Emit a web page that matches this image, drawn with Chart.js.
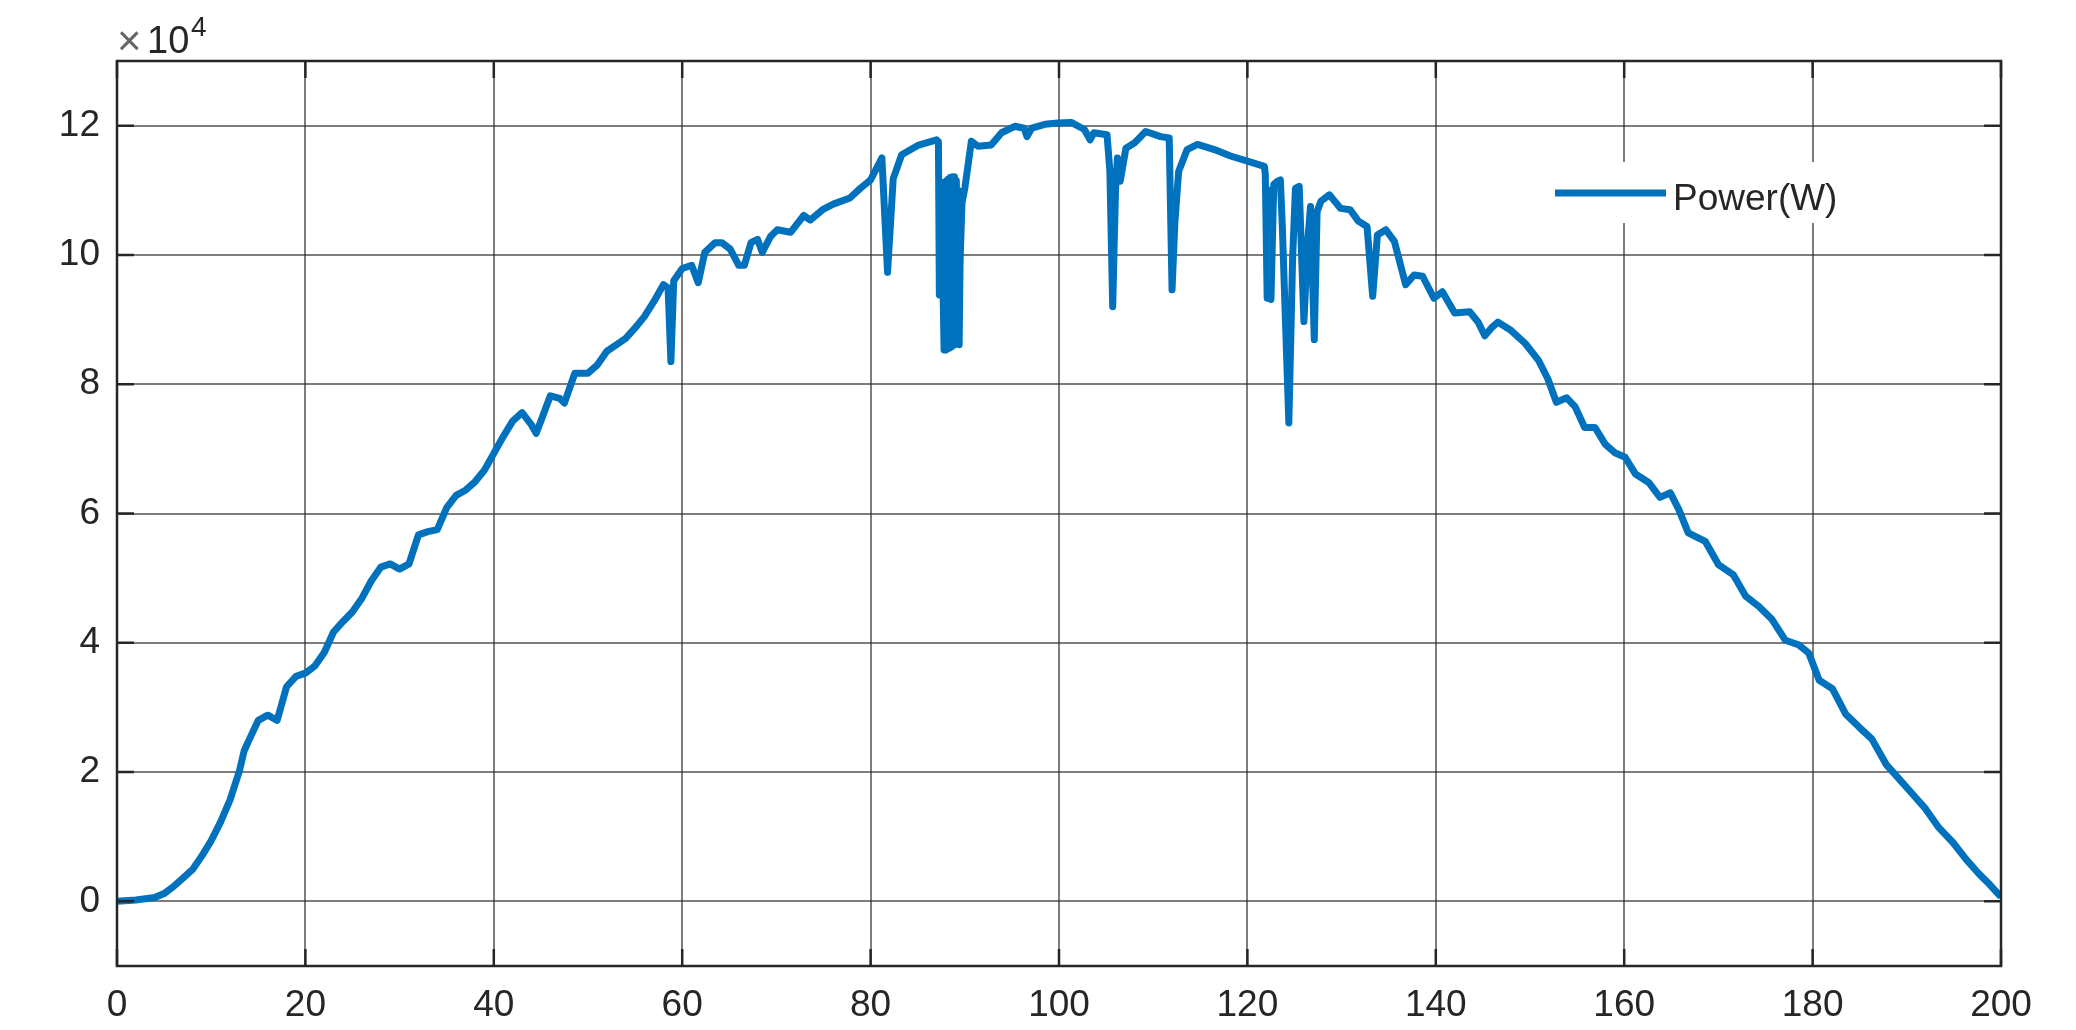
<!DOCTYPE html>
<html>
<head>
<meta charset="utf-8">
<title>Power(W)</title>
<script src="https://cdn.jsdelivr.net/npm/chart.js@4/dist/chart.umd.min.js"></script>
<style>
  html, body { margin: 0; padding: 0; background: #fff; }
  #powerChart { display: block; }
</style>
</head>
<body>
<canvas id="powerChart" width="2076" height="1030"></canvas>
<script>
// values (10 per line in both arrays)
const timeValues = [
  0, 2, 4, 5, 6, 7, 8, 9, 10, 11,
  12, 13, 13.5, 14, 15, 16, 17, 18, 19, 20,
  21, 22, 23, 24, 25, 26, 27, 28, 29, 30,
  31, 32, 33, 34, 35, 36, 37, 38, 39, 40,
  41, 42, 43, 44, 44.5, 45, 46, 47, 47.5, 48.6,
  50, 51, 52, 53, 54, 55, 56, 57, 58, 58.5,
  58.8, 59.1, 60, 61, 61.7, 62.4, 63.5, 64.2, 65.1, 66,
  66.6, 67.3, 68, 68.5, 69.4, 70.1, 71.5, 72.9, 73.6, 75,
  76.1, 77.8, 78.9, 80, 81.2, 81.8, 82.4, 83.3, 85.1, 87,
  87.2, 87.3, 87.4, 87.5, 87.6, 87.7, 87.8, 87.9, 88.0, 88.1,
  88.2, 88.3, 88.4, 88.5, 88.6, 88.7, 88.8, 88.9, 89.0, 89.1,
  89.2, 89.3, 89.4, 89.5, 89.7, 90, 90.7, 91.4, 92.8, 93.9,
  95.3, 96.3, 96.6, 97.1, 98.5, 99.9, 101.3, 102.7, 103.3, 103.7,
  105.1, 105.4, 105.7, 106, 106.2, 106.5, 107.1, 108, 109.2, 110.8,
  111.7, 112, 112.3, 112.7, 113.6, 114.7, 116.5, 118.2, 120, 121.8,
  121.9, 122.1, 122.3, 122.5, 122.8, 123.2, 123.5, 123.7, 124.4, 124.8,
  125.1, 125.5, 126, 126.4, 126.7, 127.1, 127.4, 127.8, 128.7, 129.9,
  130.9, 131.8, 132.7, 133.3, 133.8, 134.7, 135.6, 136.8, 137.7, 138.6,
  139.8, 140.7, 142, 143.6, 144.5, 145.2, 145.9, 146.6, 148, 149.5,
  150.9, 151.9, 152.8, 153.9, 154.8, 155.8, 156.9, 158, 159, 160.1,
  161.2, 162.6, 163.8, 164.9, 165.8, 166.8, 168.6, 170, 171.6, 172.9,
  174.3, 175.7, 177.1, 178.5, 179.6, 180.7, 182.1, 183.5, 184.9, 186.3,
  187.8, 189.2, 190.6, 192, 193.4, 194.9, 196.3, 197.7, 198.8, 200
];

const powerValues = [
  0, 200, 600, 1200, 2300, 3600, 4900, 7000, 9400, 12300,
  15700, 20200, 23300, 24900, 28000, 28800, 28000, 33200, 34800, 35300,
  36400, 38500, 41700, 43300, 44800, 46900, 49600, 51700, 52200, 51400,
  52200, 56700, 57200, 57500, 60900, 62800, 63600, 64900, 66700, 69300,
  71900, 74300, 75600, 73700, 72400, 74300, 78200, 77800, 77100, 81700,
  81700, 83000, 85100, 86100, 87100, 88700, 90500, 92800, 95400, 94900,
  83500, 96000, 97900, 98400, 95700, 100400, 101900, 101900, 100900, 98400,
  98400, 101900, 102400, 100400, 102900, 103900, 103500, 106100, 105400, 107100,
  107900, 108800, 110300, 111600, 115000, 97300, 111800, 115500, 117000, 117800,
  117500, 93800, 111000, 93800, 111200, 94000, 85300, 111300, 85300, 111500,
  85500, 111800, 85600, 112000, 85800, 112100, 86000, 112100, 86300, 111500,
  86300, 110000, 86100, 99000, 108000, 110300, 117600, 116800, 117000, 118900,
  119900, 119600, 118300, 119600, 120200, 120400, 120500, 119400, 117800, 118900,
  118600, 113000, 92000, 110000, 115000, 111400, 116500, 117300, 119100, 118300,
  118100, 94600, 105000, 112900, 116300, 117100, 116300, 115300, 114500, 113700,
  112500, 93300, 110000, 93100, 110900, 111400, 111600, 104700, 74000, 99500,
  110300, 110600, 89700, 102000, 107500, 86900, 106700, 108300, 109300, 107200,
  107000, 105200, 104400, 93600, 103100, 103900, 102100, 95400, 96900, 96700,
  93300, 94300, 91000, 91200, 89600, 87500, 88700, 89600, 88300, 86300,
  83700, 80800, 77200, 77900, 76500, 73300, 73300, 70700, 69400, 68700,
  66100, 64800, 62500, 63200, 60600, 57000, 55700, 52100, 50500, 47200,
  45600, 43600, 40400, 39700, 38400, 34200, 32900, 29000, 27000, 25100,
  21200, 18900, 16600, 14300, 11400, 9100, 6500, 4200, 2600, 700
];

const xTickValues = [0, 20, 40, 60, 80, 100, 120, 140, 160, 180, 200];
const yTickValues = [0, 20000, 40000, 60000, 80000, 100000, 120000];
const yMultiplier = 10000;
const seriesLabel = 'Power(W)';

const lineColor = '#0072BD';
const textColor = '#262626';
const gridColor = 'rgba(38,38,38,0.6)';
const fontFamily = "'Liberation Sans', Arial, Helvetica, sans-serif";

// box, inward ticks, x10^4 and the legend, drawn like the matlab figure
const matlabAxes = {
  id: 'matlabAxes',
  afterDraw(chart) {
    const ctx = chart.ctx;
    const area = chart.chartArea;
    const xs = chart.scales.x;
    const ys = chart.scales.y;
    const tickLen = 17;

    ctx.save();
    ctx.strokeStyle = textColor;
    ctx.lineWidth = 2.5;
    ctx.strokeRect(area.left, area.top, area.right - area.left, area.bottom - area.top);

    ctx.beginPath();
    xTickValues.forEach(v => {
      const px = xs.getPixelForValue(v);
      ctx.moveTo(px, area.bottom); ctx.lineTo(px, area.bottom - tickLen);
      ctx.moveTo(px, area.top); ctx.lineTo(px, area.top + tickLen);
    });
    yTickValues.forEach(v => {
      const py = ys.getPixelForValue(v);
      ctx.moveTo(area.left, py); ctx.lineTo(area.left + tickLen, py);
      ctx.moveTo(area.right, py); ctx.lineTo(area.right - tickLen, py);
    });
    ctx.stroke();

    // exponent label
    ctx.textBaseline = 'alphabetic';
    ctx.textAlign = 'left';
    ctx.fillStyle = '#666';
    ctx.font = '42px ' + fontFamily;
    ctx.fillText('\u00d7', area.left, area.top - 6);
    ctx.fillStyle = textColor;
    ctx.font = '38px ' + fontFamily;
    ctx.fillText('10', area.left + 30, area.top - 8);
    ctx.font = '28px ' + fontFamily;
    ctx.fillText('4', area.left + 74, area.top - 25);

    // legend
    ctx.fillStyle = '#fff';
    ctx.fillRect(1540, 162, 312, 61);
    ctx.strokeStyle = lineColor;
    ctx.lineWidth = 7;
    ctx.beginPath();
    ctx.moveTo(1555, 193);
    ctx.lineTo(1666, 193);
    ctx.stroke();
    ctx.fillStyle = textColor;
    ctx.font = '37px ' + fontFamily;
    ctx.fillText(seriesLabel, 1673, 210);
    ctx.restore();
  }
};

const ctx = document.getElementById('powerChart').getContext('2d');

new Chart(ctx, {
  type: 'line',
  data: {
    datasets: [{
      label: seriesLabel,
      data: timeValues.map((t, i) => ({ x: t, y: powerValues[i] })),
      borderColor: lineColor,
      borderWidth: 7,
      borderJoinStyle: 'round',
      pointRadius: 0,
      tension: 0,
      fill: false
    }]
  },
  options: {
    responsive: false,
    animation: false,
    layout: { padding: { top: 61, right: 75, left: 0, bottom: 0 } },
    plugins: {
      legend: { display: false },
      tooltip: { enabled: false }
    },
    scales: {
      x: {
        type: 'linear',
        min: 0,
        max: 200,
        afterBuildTicks: (scale) => { scale.ticks = xTickValues.map(v => ({ value: v })); },
        afterFit: (scale) => { scale.height = 64; },
        border: { display: false },
        grid: { color: gridColor, lineWidth: 2, drawTicks: false },
        ticks: {
          padding: 18,
          maxRotation: 0,
          color: textColor,
          font: { family: fontFamily, size: 37 }
        }
      },
      y: {
        type: 'linear',
        min: -10000,
        max: 130000,
        afterBuildTicks: (scale) => { scale.ticks = yTickValues.map(v => ({ value: v })); },
        afterFit: (scale) => { scale.width = 117; },
        border: { display: false },
        grid: { color: gridColor, lineWidth: 2, drawTicks: false },
        ticks: {
          padding: 17,
          color: textColor,
          font: { family: fontFamily, size: 37 },
          callback: (v) => v / yMultiplier
        }
      }
    }
  },
  plugins: [matlabAxes]
});
</script>
</body>
</html>
